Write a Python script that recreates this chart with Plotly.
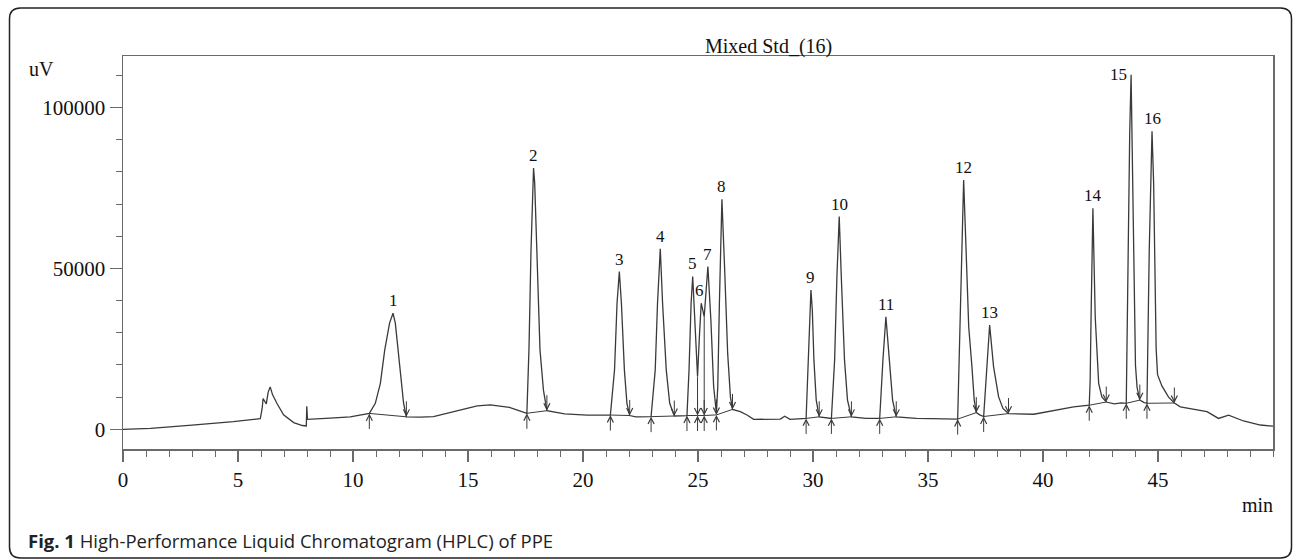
import plotly.graph_objects as go

# ---------------- data ----------------
time_min = [
    0.00, 1.20, 3.00, 4.80, 5.97, 6.05, 6.09, 6.16, 6.23, 6.31, 6.40, 6.50, 6.69, 6.98, 7.42, 7.80,
    7.97, 7.99, 8.02, 9.00, 9.88, 10.71,
    10.97, 11.19, 11.38, 11.59, 11.74, 11.84, 11.96, 12.09, 12.20, 12.32,
    12.93, 13.50, 14.67, 15.40, 15.97, 16.80, 17.56,
    17.65, 17.74, 17.81, 17.85, 17.90, 17.99, 18.13, 18.28, 18.43,
    19.20, 20.17, 21.19,
    21.37, 21.48, 21.58, 21.67, 21.80, 21.91, 22.03, 22.30, 22.96,
    23.14, 23.24, 23.36, 23.46, 23.62, 23.77, 23.97, 24.52,
    24.61, 24.70, 24.77, 24.85, 24.98, 25.06, 25.14, 25.27, 25.36, 25.43, 25.56, 25.68, 25.80,
    25.86, 25.93, 26.04, 26.16, 26.29, 26.41, 26.50,
    26.84, 27.13, 27.42, 28.58, 28.77, 29.00, 29.70,
    29.80, 29.86, 29.91, 29.97, 30.04, 30.14, 30.27, 30.80,
    30.94, 31.04, 31.14, 31.23, 31.37, 31.50, 31.67, 32.30, 32.90,
    33.04, 33.17, 33.32, 33.46, 33.62, 34.50, 36.29,
    36.40, 36.49, 36.55, 36.63, 36.77, 36.91, 37.01, 37.10, 37.25, 37.42,
    37.57, 37.68, 37.85, 38.07, 38.26, 38.50, 39.60, 40.50, 41.33, 42.01,
    42.05, 42.09, 42.17, 42.27, 42.42, 42.56, 42.75, 43.10, 43.40, 43.62,
    43.69, 43.77, 43.83, 43.90, 43.97, 44.02, 44.09, 44.21, 44.40, 44.52,
    44.62, 44.69, 44.74, 44.81, 44.87, 44.92, 44.98, 45.17, 45.46, 45.71,
    45.97, 46.84, 47.13, 47.63, 48.07, 48.72, 49.45, 50.00,
]
signal_uv = [
    0, 300, 1300, 2400, 3350, 6500, 9600, 8600, 7900, 11500, 13200, 10800, 8100, 4500, 2100, 1200,
    1050, 7200, 3100, 3500, 3900, 4950,
    8100, 14300, 24700, 33000, 36100, 33000, 24700, 14300, 8100, 3900,
    3800, 3950, 6000, 7300, 7600, 6800, 5000,
    24700, 55800, 76500, 81200, 76500, 55800, 24700, 12200, 5800,
    4800, 4450, 4450,
    18400, 39200, 49000, 39200, 18400, 8100, 4300, 3900, 3950,
    18400, 39200, 56100, 39200, 18400, 8100, 4150, 4300,
    18400, 39200, 47500, 34000, 16400, 28800, 39200, 35000, 45000, 50600, 34000, 13300, 5000,
    13300, 39200, 71500, 49500, 23600, 10100, 6200,
    5500, 4450, 3100, 3200, 4100, 3100, 3400,
    21500, 37100, 43300, 37100, 21500, 9100, 3900, 3400,
    21500, 47500, 66100, 47500, 21500, 9100, 3900, 3400, 3400,
    21500, 35000, 21500, 9100, 3900, 3400, 3200,
    35000, 61000, 77500, 61000, 31900, 19500, 9100, 5200, 4500, 4000,
    19500, 32400, 19500, 10100, 6500, 4900, 4700, 5800, 7000, 7500,
    15000, 35000, 68700, 35000, 14300, 10100, 8500, 7900, 8200, 8100,
    55800, 92000, 110200, 76500, 40000, 20000, 13000, 9100, 8300, 8100,
    55800, 85000, 92600, 76500, 45000, 25000, 17000, 13500, 10000, 8200,
    7000, 6000, 5500, 3400, 4400, 2600, 1350, 1000,
]

peak_labels = [str(i) for i in range(1, 17)]
peak_time = [11.74, 17.85, 21.58, 23.36, 24.77, 25.14, 25.43, 26.04,
             29.91, 31.14, 33.17, 36.55, 37.68, 42.17, 43.83, 44.74]
peak_height = [36100, 81200, 49000, 56100, 47500, 39200, 50600, 71500,
               43300, 66100, 35000, 77500, 32400, 68700, 110200, 92600]

start_time = [10.71, 17.56, 21.19, 22.96, 24.52, 24.98, 25.27, 25.80,
              29.70, 30.80, 32.90, 36.29, 37.42, 42.01, 43.62, 44.52]
start_level = [4950, 5000, 4450, 3950, 4300, 4300, 4300, 4500,
               3400, 3400, 3400, 3200, 4000, 7500, 8100, 8100]
end_time = [12.32, 18.43, 22.03, 23.97, 24.98, 25.27, 25.80, 26.50,
            30.27, 31.67, 33.62, 37.10, 38.50, 42.75, 44.21, 45.71]
end_level = [3900, 5800, 4300, 4150, 4300, 4300, 4500, 6200,
             3900, 3900, 3900, 5200, 4900, 8500, 9100, 8200]

drop_time = [24.98, 25.27]
drop_top = [16400, 35000]
drop_base = [4300, 4300]

x_ticks = [0, 5, 10, 15, 20, 25, 30, 35, 40, 45]
y_ticks = [0, 50000, 100000]

# ---------------- layout geometry (pixels) ----------------
W, H = 1293, 559
L, R, T, B = 123, 20, 56, 110
PW, PH = W - L - R, H - T - B

def px(x):
    return (x - L) / PW

def py(y):
    return (H - B - y) / PH

LINE = "#3a3a3a"
AXIS = "#6a6a6a"
SERIF = "Liberation Serif"

fig = go.Figure()

fig.add_trace(go.Scatter(x=time_min, y=signal_uv, mode="lines",
                         line=dict(color=LINE, width=1.3), hoverinfo="skip",
                         showlegend=False))

# integration baselines
bx, by = [], []
for s, sl, e, el in zip(start_time, start_level, end_time, end_level):
    bx += [s, e, None]
    by += [sl, el, None]
for t, top, base in zip(drop_time, drop_top, drop_base):
    bx += [t, t, None]
    by += [top, base, None]
fig.add_trace(go.Scatter(x=bx, y=by, mode="lines",
                         line=dict(color=LINE, width=1.0), hoverinfo="skip",
                         showlegend=False))

annotations = []
# start (up) and end (down) markers
for s, sl in zip(start_time, start_level):
    annotations.append(dict(x=s, y=sl, xref="x", yref="y", text="", showarrow=True,
                            ax=0, ay=17, arrowhead=5, arrowsize=1.2, arrowwidth=1,
                            arrowcolor=LINE))
for e, el in zip(end_time, end_level):
    annotations.append(dict(x=e, y=el, xref="x", yref="y", text="", showarrow=True,
                            ax=0, ay=-17, arrowhead=5, arrowsize=1.2, arrowwidth=1,
                            arrowcolor=LINE))

label_shift = {"15": dict(xanchor="right", yanchor="middle", xshift=-2, yshift=0),
               "6": dict(xshift=-2)}
for lab, t, h in zip(peak_labels, peak_time, peak_height):
    a = dict(x=t, y=h, xref="x", yref="y", text=lab, showarrow=False,
             xanchor="center", yanchor="bottom", yshift=1,
             font=dict(family=SERIF, size=17, color="#111"))
    a.update(label_shift.get(lab, {}))
    annotations.append(a)

annotations += [
    dict(x=px(768), y=py(46), xref="paper", yref="paper", text="Mixed Std_(16)",
         showarrow=False, xanchor="center", yanchor="middle",
         font=dict(family=SERIF, size=20, color="#111")),
    dict(x=px(41), y=py(69), xref="paper", yref="paper", text="uV",
         showarrow=False, xanchor="center", yanchor="middle",
         font=dict(family=SERIF, size=20, color="#111")),
    dict(x=px(1257), y=py(505), xref="paper", yref="paper", text="min",
         showarrow=False, xanchor="center", yanchor="middle",
         font=dict(family=SERIF, size=20, color="#111")),
    dict(x=px(26), y=py(540), xref="paper", yref="paper",
         text="<b>Fig. 1</b> High-Performance Liquid Chromatogram (HPLC) of PPE",
         showarrow=False, xanchor="left", yanchor="middle",
         font=dict(family="Open Sans", size=18.5, color="#222")),
]

# rounded frame around the figure
x0, x1, y0, y1, r = 9.5, 1291.5, 8, 558, 11
path = (f"M {px(x0 + r)},{py(y0)} L {px(x1 - r)},{py(y0)} "
        f"Q {px(x1)},{py(y0)} {px(x1)},{py(y0 + r)} "
        f"L {px(x1)},{py(y1 - r)} Q {px(x1)},{py(y1)} {px(x1 - r)},{py(y1)} "
        f"L {px(x0 + r)},{py(y1)} Q {px(x0)},{py(y1)} {px(x0)},{py(y1 - r)} "
        f"L {px(x0)},{py(y0 + r)} Q {px(x0)},{py(y0)} {px(x0 + r)},{py(y0)} Z")

fig.update_layout(
    width=W, height=H,
    margin=dict(l=L, r=R, t=T, b=B),
    paper_bgcolor="white", plot_bgcolor="white",
    showlegend=False,
    annotations=annotations,
    shapes=[dict(type="path", path=path, xref="paper", yref="paper",
                 line=dict(color="#222", width=1.5), fillcolor="rgba(0,0,0,0)")],
    xaxis=dict(range=[0, 50], tickvals=x_ticks, ticktext=[str(v) for v in x_ticks],
               ticks="outside", ticklen=11, tickwidth=1.2, tickcolor=AXIS,
               showline=True, linecolor=AXIS, linewidth=1.5, mirror=True,
               showgrid=False, zeroline=False,
               tickfont=dict(family=SERIF, size=21, color="#111"),
               minor=dict(dtick=1, tick0=0, ticks="outside", ticklen=6,
                          tickwidth=1, tickcolor=AXIS, showgrid=False)),
    yaxis=dict(range=[-6100, 116000], tickvals=y_ticks, ticktext=[str(v) for v in y_ticks],
               ticks="outside", ticklen=12, tickwidth=1.2, tickcolor=AXIS,
               showline=True, linecolor=AXIS, linewidth=1.5, mirror=True,
               showgrid=False, zeroline=False,
               tickfont=dict(family=SERIF, size=21, color="#111"),
               minor=dict(dtick=10000, tick0=0, ticks="outside", ticklen=6,
                          tickwidth=1, tickcolor=AXIS, showgrid=False)),
)

fig.write_html("out.html", config={"displayModeBar": False, "staticPlot": True},
               post_script="document.body.style.margin='0';document.body.style.overflow='hidden';")
